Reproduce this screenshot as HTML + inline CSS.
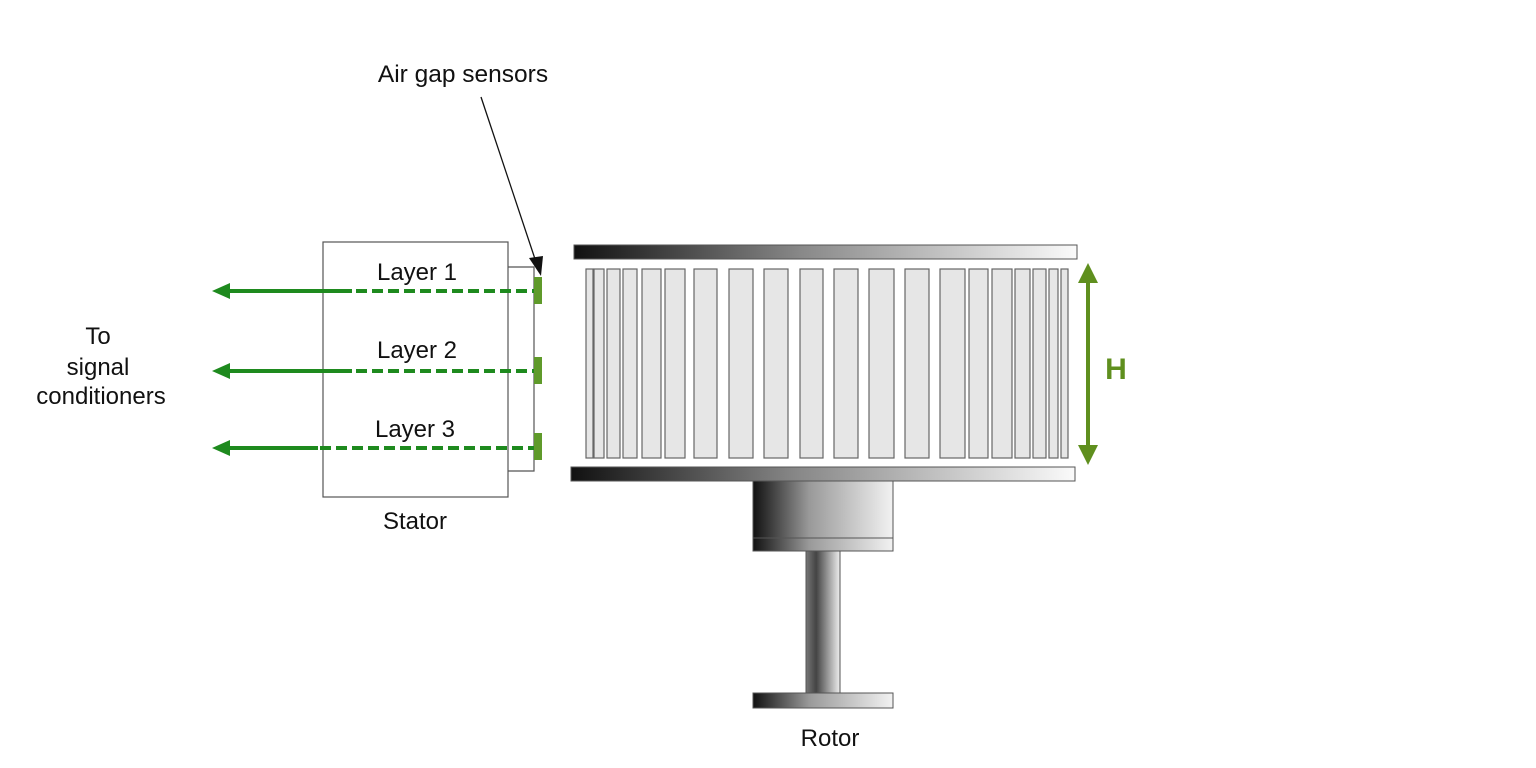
<!DOCTYPE html>
<html><head><meta charset="utf-8"><style>
html,body{margin:0;padding:0;background:#fff;}
svg{display:block;}
text{font-family:"Liberation Sans",Arial,sans-serif;fill:#111;}
</style></head><body>
<svg width="1536" height="768" viewBox="0 0 1536 768" xmlns="http://www.w3.org/2000/svg">
<defs>
<linearGradient id="g1" x1="0" x2="1" y1="0" y2="0">
<stop offset="0" stop-color="#111"/><stop offset="0.45" stop-color="#888"/><stop offset="1" stop-color="#fafafa"/>
</linearGradient>
<linearGradient id="g2" x1="0" x2="1" y1="0" y2="0">
<stop offset="0" stop-color="#111"/><stop offset="0.4" stop-color="#999"/><stop offset="1" stop-color="#f2f2f2"/>
</linearGradient>
<linearGradient id="g3" x1="0" x2="1" y1="0" y2="0">
<stop offset="0" stop-color="#777"/><stop offset="0.3" stop-color="#444"/><stop offset="1" stop-color="#eee"/>
</linearGradient>
</defs>

<text x="463" y="82" font-size="24.5" text-anchor="middle">Air gap sensors</text>
<line x1="481" y1="97" x2="536" y2="262" stroke="#111" stroke-width="1.3"/>
<path d="M529,258 L543,256 L541,276 z" fill="#111"/>

<rect x="323" y="242" width="185" height="255" fill="#fff" stroke="#555" stroke-width="1.2"/>
<polyline points="508,267 534,267 534,471 508,471" fill="none" stroke="#555" stroke-width="1.2"/>
<text x="417" y="280" font-size="24" text-anchor="middle">Layer 1</text>
<text x="417" y="358" font-size="24" text-anchor="middle">Layer 2</text>
<text x="415" y="437" font-size="24" text-anchor="middle">Layer 3</text>
<text x="415" y="529" font-size="24" text-anchor="middle">Stator</text>

<g stroke="#1e8a1e" stroke-width="4" fill="none">
<line x1="228" y1="291" x2="352" y2="291"/><line x1="356" y1="291" x2="534" y2="291" stroke-dasharray="11,5"/>
<line x1="228" y1="371" x2="352" y2="371"/><line x1="356" y1="371" x2="534" y2="371" stroke-dasharray="11,5"/>
<line x1="228" y1="448" x2="318" y2="448"/><line x1="320" y1="448" x2="534" y2="448" stroke-dasharray="11,5"/>
</g>
<g fill="#1e8a1e">
<path d="M212,291 L230,283 L230,299 z"/>
<path d="M212,371 L230,363 L230,379 z"/>
<path d="M212,448 L230,440 L230,456 z"/>
</g>
<g fill="#5f9a2a">
<rect x="534" y="277" width="8" height="27"/>
<rect x="534" y="357" width="8" height="27"/>
<rect x="534" y="433" width="8" height="27"/>
</g>

<text x="98" y="344" font-size="24" text-anchor="middle">To</text>
<text x="98" y="375" font-size="24" text-anchor="middle">signal</text>
<text x="101" y="404" font-size="24" text-anchor="middle">conditioners</text>

<rect x="574" y="245" width="503" height="14" fill="url(#g1)" stroke="#555" stroke-width="1"/>
<rect x="571" y="467" width="504" height="14" fill="url(#g1)" stroke="#555" stroke-width="1"/>

<g fill="#e6e6e6" stroke="#666" stroke-width="1.2">
<rect x="586" y="269" width="7" height="189"/>
<rect x="594" y="269" width="10" height="189"/>
<rect x="607" y="269" width="13" height="189"/>
<rect x="623" y="269" width="14" height="189"/>
<rect x="642" y="269" width="19" height="189"/>
<rect x="665" y="269" width="20" height="189"/>
<rect x="694" y="269" width="23" height="189"/>
<rect x="729" y="269" width="24" height="189"/>
<rect x="764" y="269" width="24" height="189"/>
<rect x="800" y="269" width="23" height="189"/>
<rect x="834" y="269" width="24" height="189"/>
<rect x="869" y="269" width="25" height="189"/>
<rect x="905" y="269" width="24" height="189"/>
<rect x="940" y="269" width="25" height="189"/>
<rect x="969" y="269" width="19" height="189"/>
<rect x="992" y="269" width="20" height="189"/>
<rect x="1015" y="269" width="15" height="189"/>
<rect x="1033" y="269" width="13" height="189"/>
<rect x="1049" y="269" width="9" height="189"/>
<rect x="1061" y="269" width="7" height="189"/>
</g>

<line x1="1088" y1="280" x2="1088" y2="448" stroke="#5f8f1e" stroke-width="4"/>
<path d="M1088,263 L1098,283 L1078,283 z" fill="#5f8f1e"/>
<path d="M1088,465 L1098,445 L1078,445 z" fill="#5f8f1e"/>
<text x="1116" y="379" font-size="30" font-weight="bold" text-anchor="middle" style="fill:#5f8f1e">H</text>

<rect x="753" y="481" width="140" height="57" fill="url(#g2)" stroke="#555" stroke-width="1"/>
<rect x="753" y="538" width="140" height="13" fill="url(#g2)" stroke="#555" stroke-width="1"/>
<rect x="806" y="551" width="34" height="142" fill="url(#g3)" stroke="#555" stroke-width="1"/>
<rect x="753" y="693" width="140" height="15" fill="url(#g2)" stroke="#555" stroke-width="1"/>
<text x="830" y="746" font-size="24" text-anchor="middle">Rotor</text>
</svg>
</body></html>
